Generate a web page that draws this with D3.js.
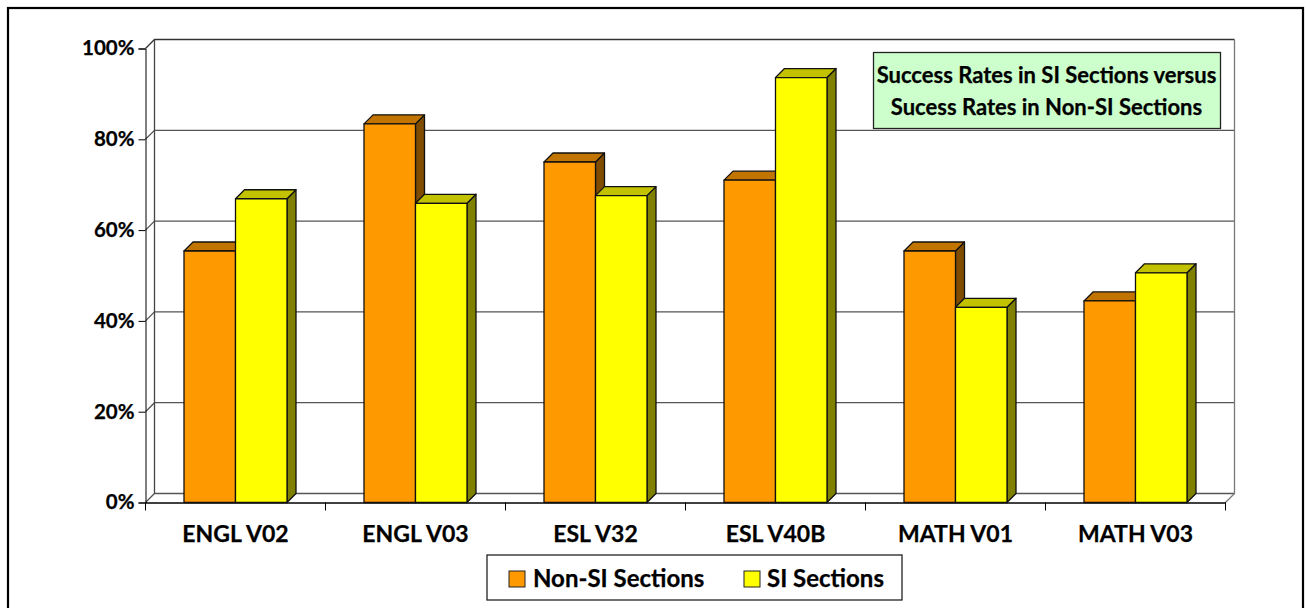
<!DOCTYPE html>
<html><head><meta charset="utf-8">
<script src="https://cdn.jsdelivr.net/npm/d3@7"></script>
<style>html,body{margin:0;padding:0;background:#fff}svg{display:block}text{font-family:Lato,"Open Sans",sans-serif;font-weight:700;fill:#000;stroke:#000;stroke-width:.25px}</style>
</head><body><svg id="c" width="1306" height="608"></svg>
<script>
const categories = ["ENGL V02","ENGL V03","ESL V32","ESL V40B","MATH V01","MATH V03"];
const seriesNames = ["Non-SI Sections","SI Sections"];
const nonSI = [55.4,83.4,75,71,55.4,44.4];
const si = [66.9,65.9,67.6,93.6,43,50.6];
const yTicks = [0,20,40,60,80,100];
const titleLines = ["Success Rates in SI Sections versus","Sucess Rates in Non-SI Sections"];

(function(){
const svg = d3.select("#c");
const H=608;
const pLeft=145.5,pRight=1225.5,pTop=48.5,pBottom=502.5,depth=9;
const x0=d3.scaleBand().domain(categories).range([pLeft,pRight]);
const x1=d3.scaleBand().domain([0,1]).range([38.5,141.5]);
const y=d3.scaleLinear().domain([0,100]).range([pBottom,pTop]);
const colors=[{f:"#ff9900",t:"#c27400",s:"#804d00"},{f:"#ffff00",t:"#c2c200",s:"#808000"}];
// outer frame
svg.append("rect").attr("x",8).attr("y",8).attr("width",1295).attr("height",H+10).attr("fill","#fff").attr("stroke","#000").attr("stroke-width",2.2);
const g=svg.append("g");
// back wall gridlines & floor
const grid=g.append("g");
yTicks.forEach(t=>{
  const yy=y(t);
  grid.append("path").attr("d",`M${pLeft},${yy}L${pLeft+depth},${yy-depth}L${pRight+depth},${yy-depth}`).attr("fill","none").attr("stroke",t===100?"#333":"#555").attr("stroke-width",1.3);
});
grid.append("path").attr("d",`M${pLeft+depth},${pTop-depth}V${pBottom-depth}`).attr("stroke","#444").attr("stroke-width",1.3);
grid.append("path").attr("d",`M${pRight+depth},${pTop-depth}V${pBottom-depth}L${pRight},${pBottom}`).attr("fill","none").attr("stroke","#777").attr("stroke-width",1.3);
// axes
const ax=d3.axisLeft(y).tickValues(yTicks).tickSize(7).tickPadding(4).tickFormat(d=>d+"%");
const ya=g.append("g").attr("transform",`translate(${pLeft},0)`).call(ax);
ya.selectAll("text").attr("font-size",20.5).attr("dy",".31em");
ya.selectAll("path").attr("stroke","#000");
const xa=d3.axisBottom(x0).tickSize(0).tickPadding(0);
const xg=g.append("g").attr("transform",`translate(0,${pBottom})`).call(xa);
xg.selectAll("path").attr("stroke","#000").attr("stroke-width",1.3);
xg.selectAll("text").attr("font-size",23).attr("y",33.5).attr("dy",".0em").attr("dominant-baseline","middle");
xg.selectAll("line").remove();
g.append("g").selectAll("line").data(d3.range(7)).join("line")
 .attr("x1",i=>pLeft+i*x0.step()).attr("x2",i=>pLeft+i*x0.step()).attr("y1",pBottom).attr("y2",pBottom+8).attr("stroke","#000").attr("stroke-width",1);
// bars
const bars=g.append("g");
categories.forEach((c,i)=>{
 [nonSI[i],si[i]].forEach((v,k)=>{
  const col=colors[k];
  const xl=x0(c)+x1(k),w=x1.bandwidth(),yt=y(v),d=depth;
  const b=bars.append("g").attr("stroke","#111").attr("stroke-width",1.3).attr("stroke-linejoin","round");
  b.append("path").attr("d",`M${xl+w},${yt}l${d},${-d}V${pBottom-d}l${-d},${d}Z`).attr("fill",col.s);
  b.append("path").attr("d",`M${xl},${yt}l${d},${-d}h${w}l${-d},${d}Z`).attr("fill",col.t);
  b.append("rect").attr("x",xl).attr("y",yt).attr("width",w).attr("height",pBottom-yt).attr("fill",col.f);
 });
});
// title box
svg.append("rect").attr("x",873.5).attr("y",52.5).attr("width",347).attr("height",76).attr("fill","#ccffcc").attr("stroke","#222").attr("stroke-width",1.3);
titleLines.forEach((t,i)=>svg.append("text").attr("x",1046.5).attr("y",[77,109][i]).attr("text-anchor","middle").attr("dominant-baseline","middle").attr("font-size",22).text(t));
// legend
const lg=svg.append("g");
lg.append("rect").attr("x",487).attr("y",555).attr("width",415).attr("height",45).attr("fill","#fff").attr("stroke","#222").attr("stroke-width",1.3);
[[509,seriesNames[0],533],[744,seriesNames[1],767]].forEach((a,i)=>{
 lg.append("rect").attr("x",a[0]).attr("y",571).attr("width",16).attr("height",16).attr("fill",colors[i].f).attr("stroke","#222");
 lg.append("text").attr("x",a[2]).attr("y",581).attr("dominant-baseline","middle").attr("font-size",24).text(a[1]);
});
})();
</script></body></html>
